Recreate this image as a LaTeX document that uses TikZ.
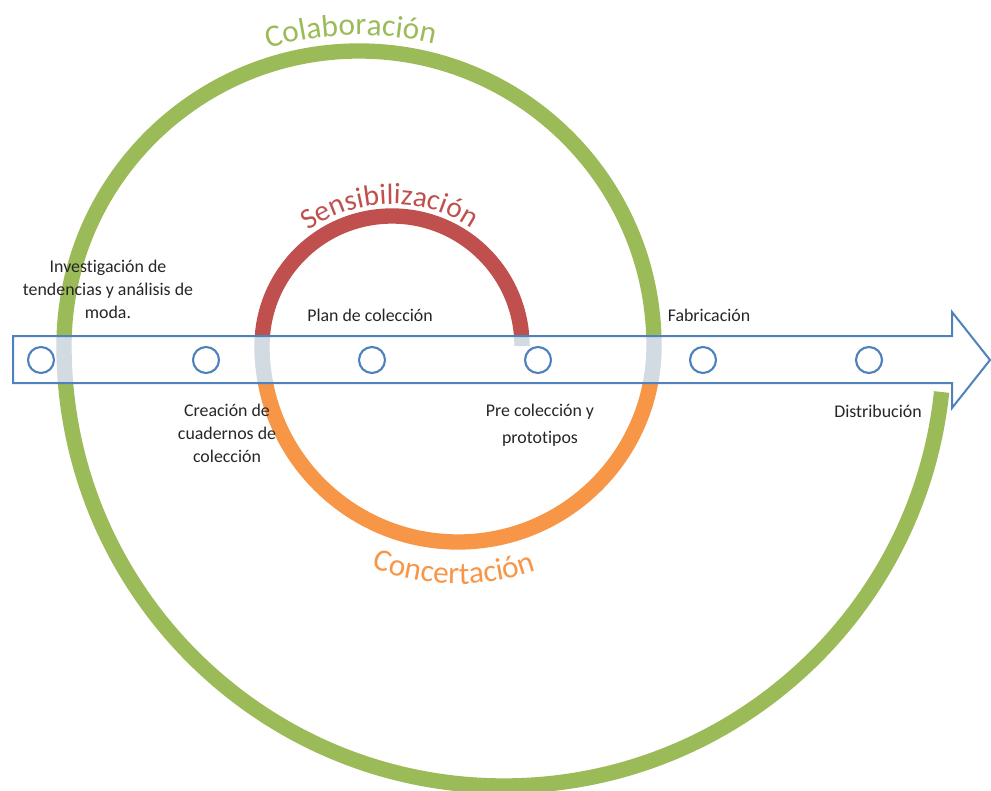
\documentclass[tikz,border=0pt]{standalone}
\usepackage{fontspec}
\setmainfont[Ligatures=NoCommon]{Carlito}
\usetikzlibrary{decorations.text}
\definecolor{ringgreen}{HTML}{9BBB59}
\definecolor{ringred}{HTML}{C0504D}
\definecolor{ringorange}{HTML}{F79646}
\definecolor{flowblue}{HTML}{4F81BD}
\definecolor{ringshade}{HTML}{D2DAE2}
\newcommand\spiraltitle{\fontsize{22}{26}\selectfont}
\newcommand\spiraltitlebig{\fontsize{23.5}{28}\selectfont}
\begin{document}
\begin{tikzpicture}[x=0.75pt,y=0.75pt,
  ring/.style={line width=11.5pt, line cap=butt},
  stage/.style={circle, draw=flowblue, line width=1.6pt, fill=white,
    minimum size=19.5pt, inner sep=0pt},
  steplabel/.style={font=\fontsize{13.4}{17}\selectfont, align=center,
    anchor=base, text=black!85},
  flow/.style={draw=flowblue, line width=1.5pt, line join=miter}]
\useasboundingbox (0,0) rectangle (991,790);

% centres of the spiral's half circles
\coordinate (cred)   at (392,444);
\coordinate (corange) at (458,444);
\coordinate (cgtop)  at (359,444);
\coordinate (cgbot)  at (504,444);

% outline of the process arrow
\coordinate (a1) at (13,454);
\coordinate (a2) at (952,454);
\coordinate (a3) at (952,478);
\coordinate (a4) at (990,430);
\coordinate (a5) at (952,382);
\coordinate (a6) at (952,407);
\coordinate (a7) at (13,407);

% the spiral
\draw[ring, ringred]    (cred) ++(0:130) arc[start angle=0, end angle=180, radius=130];
\draw[ring, ringorange] (corange) ++(180:196) arc[start angle=180, end angle=360, radius=196];
\draw[ring, ringgreen]  (cgtop) ++(0:295) arc[start angle=0, end angle=180, radius=295];
\draw[ring, ringgreen]  (cgbot) ++(180:440) arc[start angle=180, end angle=354, radius=440];

% arrow body, with the spiral seen faintly through it
\fill[white] (a1) -- (a2) -- (a3) -- (a4) -- (a5) -- (a6) -- (a7) -- cycle;
\begin{scope}
  \clip (a1) -- (a2) -- (a3) -- (a4) -- (a5) -- (a6) -- (a7) -- cycle;
  \draw[ring, ringshade] (cred) ++(0:130) arc[start angle=0, end angle=180, radius=130];
  \draw[ring, ringshade] (corange) ++(180:196) arc[start angle=180, end angle=360, radius=196];
  \draw[ring, ringshade] (cgtop) ++(0:295) arc[start angle=0, end angle=180, radius=295];
  \draw[ring, ringshade] (cgbot) ++(180:440) arc[start angle=180, end angle=354, radius=440];
\end{scope}
\draw[flow] (a1) -- (a2) -- (a3) -- (a4) -- (a5) -- (a6) -- (a7) -- cycle;

% stages along the arrow
\node[stage] (s1) at (41,430) {};
\node[stage] (s2) at (206,430) {};
\node[stage] (s3) at (372,430) {};
\node[stage] (s4) at (538,430) {};
\node[stage] (s5) at (703,430) {};
\node[stage] (s6) at (869,430) {};

% stage labels (multi-line labels sit on the baseline of their last line)
\node[steplabel] (l1) at (108,472) {Investigación de\\tendencias y análisis de\\moda.};
\node[steplabel] (l2) at (227,328) {Creación de\\cuadernos de\\colección};
\node[steplabel] (l3) at (370,469) {Plan de colección};
\node[steplabel, font=\fontsize{13.4}{20}\selectfont] (l4) at (540,347) {Pre colección y\\prototipos};
\node[steplabel] (l5) at (709,469) {Fabricación};
\node[steplabel] (l6) at (878,373) {Distribución};

% titles written along the spiral
\path[decorate, decoration={text along path, text align=center,
  text={|\spiraltitlebig\color{ringgreen}|Colaboración}}]
  (cgtop) ++(121.5:311) arc[start angle=121.5, end angle=61.5, radius=311];
\path[decorate, decoration={text along path, text align=center,
  text={|\spiraltitle\color{ringred}|Sensibilización}}]
  (cred) ++(151:142) arc[start angle=151, end angle=31, radius=142];
\path[decorate, decoration={text along path, text align=center,
  text={|\spiraltitlebig\color{ringorange}|Concertación}}]
  (corange) ++(224:238) arc[start angle=224, end angle=314, radius=238];
\end{tikzpicture}
\end{document}
